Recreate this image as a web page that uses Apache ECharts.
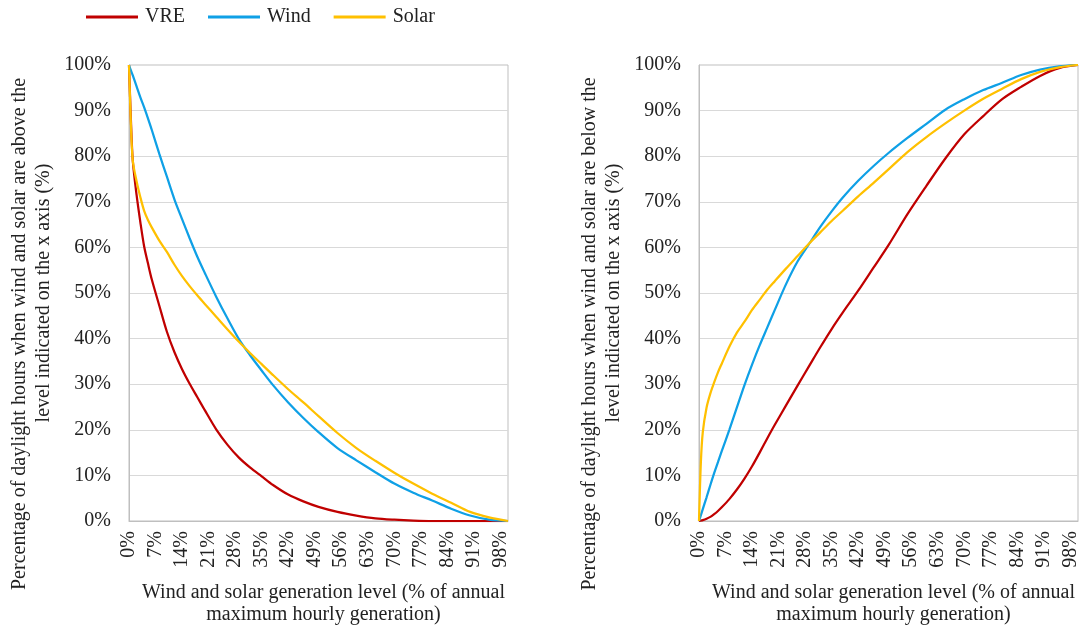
<!DOCTYPE html>
<html>
<head>
<meta charset="utf-8">
<script src="https://cdn.jsdelivr.net/npm/echarts@6/dist/echarts.min.js"></script>
<style>
  html, body { margin: 0; padding: 0; background: #fff; }
  #main { width: 1083px; height: 627px; }
</style>
</head>
<body>
<div id="main"></div>
<script>
const chart = echarts.init(document.getElementById('main'))

// generation level (% of annual max hourly generation)
const xs = [0, 0.5, 1, 2, 3, 4, 5, 6, 8, 10, 12, 14, 16, 18, 20, 23, 26, 29, 32, 35, 38, 42, 46, 50, 55, 60, 65, 70, 75, 80, 85, 90, 95, 100]

// left panel: share of daylight hours above the level
const aboveVRE = [100, 88, 79, 71.5, 65.5, 60.2, 56.5, 53, 47.2, 41.5, 37, 33.3, 30.1, 27.2, 24.3, 20.1, 16.7, 13.9, 11.7, 9.8, 7.9, 5.8, 4.3, 3.1, 2, 1.2, 0.6, 0.3, 0.1, 0, 0, 0, 0, 0]
const aboveWind = [100, 98.8, 97.7, 95.3, 92.9, 90.7, 88.3, 85.8, 80.5, 75.5, 70.5, 66.2, 62, 58, 54.4, 49.2, 44.4, 39.9, 36.3, 33, 29.8, 26, 22.6, 19.5, 16, 13.3, 10.7, 8.2, 6.2, 4.5, 2.7, 1.2, 0.3, 0]
const aboveSolar = [100, 87, 79, 74.5, 71, 68, 66, 64.4, 61.5, 59, 56.2, 53.7, 51.5, 49.5, 47.6, 44.8, 42, 39.3, 36.8, 34.4, 32, 28.9, 26, 23, 19.3, 16, 13.2, 10.6, 8.2, 6, 4, 2, 0.8, 0]

// right panel: share of daylight hours below the level
const belowVRE = [0, 0.1, 0.2, 0.5, 0.9, 1.5, 2.2, 3, 4.8, 6.9, 9.3, 12, 15, 18.1, 21.1, 25.4, 29.7, 33.9, 38.1, 42.1, 45.8, 50.5, 55.5, 60.5, 67.3, 73.5, 79.5, 84.8, 88.8, 92.5, 95.2, 97.6, 99.3, 100]
const belowWind = [0, 1.3, 2.6, 5.2, 7.9, 10.5, 12.9, 15.3, 20, 24.9, 29.8, 34.3, 38.5, 42.4, 46.3, 52, 56.9, 60.7, 64.5, 67.9, 71, 74.6, 77.8, 80.7, 84, 87.1, 90.2, 92.5, 94.5, 96.1, 97.8, 99, 99.7, 100]
const belowSolar = [0, 13, 19.5, 24.9, 28, 30.4, 32.6, 34.5, 38.2, 41.3, 43.7, 46.3, 48.5, 50.7, 52.6, 55.4, 58.1, 60.8, 63.3, 65.8, 68.1, 71.2, 74.1, 77.1, 80.9, 84.2, 87.2, 90, 92.6, 94.8, 96.9, 98.5, 99.5, 100]

const seriesNames = ['VRE', 'Wind', 'Solar']
const colors = ['#C00000', '#0FA0E6', '#FFC000']

const font = 'Liberation Serif'
const textColor = '#222'

const xTitle = 'Wind and solar generation level (% of annual\nmaximum hourly generation)'
const yTitles = [
  '{a|Percentage of daylight hours when wind and solar are above the}\n{b|level indicated on the x axis (%)}',
  '{a|Percentage of daylight hours when wind and solar are below the}\n{b|level indicated on the x axis (%)}'
]

const pair = (ys) => xs.map((x, i) => [x, ys[i]])

let xAxes = [0, 1].map(i => ({
  type: 'value',
  gridIndex: i,
  min: 0,
  max: 100,
  interval: 7,
  name: xTitle,
  nameLocation: 'middle',
  nameGap: 61,
  nameTextStyle: { fontFamily: font, fontSize: 20, color: textColor, lineHeight: 22, padding: [0, 0, 0, 10] },
  axisLine: { show: true, lineStyle: { color: '#bfbfbf', width: 1 } },
  axisTick: { show: false },
  splitLine: { show: false },
  axisLabel: {
    rotate: 90,
    margin: 10,
    showMaxLabel: false,
    fontFamily: font,
    fontSize: 20,
    color: textColor,
    formatter: v => v + '%'
  }
}))

let yAxes = [0, 1].map(i => ({
  type: 'value',
  gridIndex: i,
  min: 0,
  max: 100,
  interval: 10,
  name: yTitles[i],
  nameLocation: 'middle',
  nameGap: 73,
  nameTextStyle: {
    fontFamily: font, fontSize: 20, color: textColor, lineHeight: 24,
    rich: {
      a: { fontFamily: font, fontSize: 20, color: textColor, lineHeight: 24, padding: [0, 82, 0, 0] },
      b: { fontFamily: font, fontSize: 20, color: textColor, lineHeight: 24 }
    }
  },
  axisLine: { show: true, lineStyle: { color: '#bfbfbf', width: 1 } },
  axisTick: { show: false },
  splitLine: { show: true, showMaxLine: false, lineStyle: { color: '#d9d9d9', width: 1 } },
  axisLabel: {
    margin: 18,
    fontFamily: font,
    fontSize: 20,
    color: textColor,
    formatter: '{value}%'
  }
}))

let panels = [[aboveVRE, aboveWind, aboveSolar], [belowVRE, belowWind, belowSolar]]
let series = []
panels.forEach((sets, p) => {
  sets.forEach((ys, k) => {
    series.push({
      name: seriesNames[k],
      type: 'line',
      xAxisIndex: p,
      yAxisIndex: p,
      data: pair(ys),
      showSymbol: false,
      smooth: 0.3,
      lineStyle: { color: colors[k], width: 2.25 },
      itemStyle: { color: colors[k] },
      z: 2 + k
    })
  })
})

let option = {
  animation: false,
  backgroundColor: '#fff',
  legend: {
    data: seriesNames,
    left: 81,
    top: 2,
    icon: 'rect',
    itemWidth: 52,
    itemHeight: 3,
    itemGap: 23,
    textStyle: { fontFamily: font, fontSize: 20, color: textColor, padding: [0, 0, 0, 2] }
  },
  grid: [
    { left: 129, right: 575, top: 65, bottom: 106, show: true, borderColor: '#bfbfbf', borderWidth: 1, outerBoundsMode: 'none' },
    { left: 699, right: 5, top: 65, bottom: 106, show: true, borderColor: '#bfbfbf', borderWidth: 1, outerBoundsMode: 'none' }
  ],
  xAxis: xAxes,
  yAxis: yAxes,
  series: series
}
chart.setOption(option)
</script>
</body>
</html>
